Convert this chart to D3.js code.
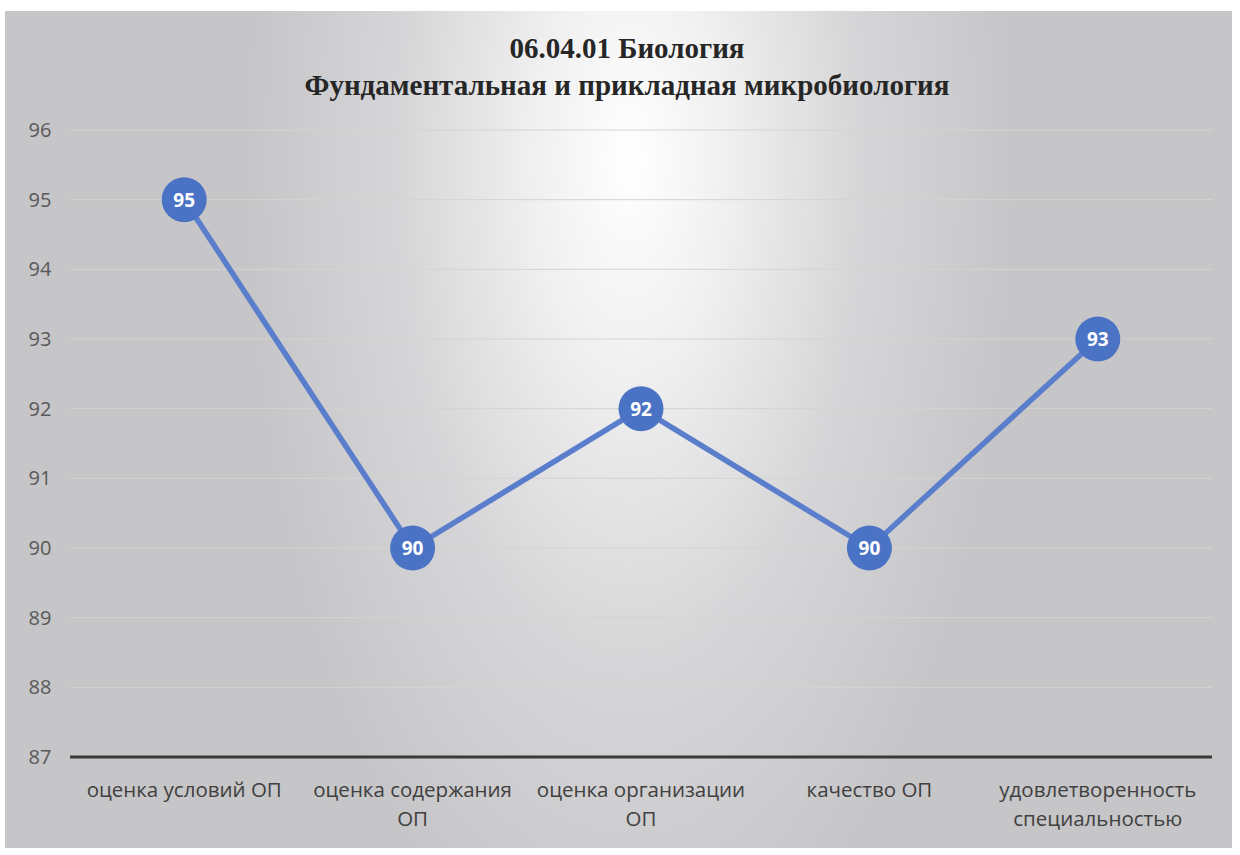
<!doctype html>
<html lang="ru">
<head>
	<meta charset="UTF-8">
	<title>06.04.01 Биология</title>
	<style>
		body { margin: 0; background: #fff; }
		.tick-label { fill: #595959; font-family: "Open Sans", "Noto Sans", sans-serif; font-size: 20px; }
		.cat-label { fill: #404040; font-family: "Open Sans", "Noto Sans", sans-serif; font-size: 20.5px; }
		.title { fill: #262626; font-family: "Liberation Serif", "DejaVu Serif", serif; font-weight: bold; font-size: 29px; }
		.val { fill: #fff; font-family: "Open Sans", "Noto Sans", sans-serif; font-size: 19px; font-weight: bold; }
	</style>
</head>
<body>
	<script src="https://cdn.jsdelivr.net/npm/d3@7"></script>
	<script>
		var categories = [
				['оценка условий ОП'],
				['оценка содержания', 'ОП'],
				['оценка организации', 'ОП'],
				['качество ОП'],
				['удовлетворенность', 'специальностью']
			],
			values = [95, 90, 92, 90, 93],
			yTicks = [87, 88, 89, 90, 91, 92, 93, 94, 95, 96],
			titleLines = ['06.04.01 Биология', 'Фундаментальная и прикладная микробиология'];

		var w = 1240,
			h = 855,
			plot = { left: 70, right: 1212, top: 130, bottom: 757 };

		var svg = d3.select('body')
			.append('svg')
			.attr('width', w)
			.attr('height', h);

		// background gradient like the scanned chart area
		var defs = svg.append('defs');
		var grad = defs.append('radialGradient')
			.attr('id', 'bg')
			.attr('gradientUnits', 'userSpaceOnUse')
			.attr('cx', 630).attr('cy', 160).attr('r', 620)
			.attr('gradientTransform', 'translate(630,160) scale(0.62,1.35) translate(-630,-160)');
		grad.append('stop').attr('offset', '0%').attr('stop-color', '#ffffff');
		grad.append('stop').attr('offset', '25%').attr('stop-color', '#f0f0f1');
		grad.append('stop').attr('offset', '60%').attr('stop-color', '#d6d5d7');
		grad.append('stop').attr('offset', '100%').attr('stop-color', '#c6c5c7');

		svg.append('rect')
			.attr('x', 5).attr('y', 11)
			.attr('width', 1227).attr('height', 837)
			.attr('fill', 'url(#bg)');

		var xScale = d3.scaleBand()
			.domain(d3.range(categories.length))
			.range([plot.left, plot.right]);

		var yScale = d3.scaleLinear()
			.domain([87, 96])
			.range([plot.bottom, plot.top]);

		// gridlines
		svg.selectAll('.grid')
			.data(yTicks.slice(1))
			.enter()
			.append('line')
			.attr('x1', plot.left)
			.attr('x2', plot.right)
			.attr('y1', function(d) { return yScale(d); })
			.attr('y2', function(d) { return yScale(d); })
			.attr('stroke', '#d4d4d4')
			.attr('stroke-width', 1);

		// y tick labels
		svg.selectAll('.tick-label')
			.data(yTicks)
			.enter()
			.append('text')
			.attr('class', 'tick-label')
			.attr('x', 40)
			.attr('y', function(d) { return yScale(d); })
			.attr('dy', '0.35em')
			.attr('text-anchor', 'middle')
			.text(function(d) { return d; });

		// x axis line
		svg.append('line')
			.attr('x1', plot.left)
			.attr('x2', plot.right)
			.attr('y1', yScale(87))
			.attr('y2', yScale(87))
			.attr('stroke', '#3a3a3a')
			.attr('stroke-width', 3);

		// category labels
		var cat = svg.selectAll('.cat-label')
			.data(categories)
			.enter()
			.append('text')
			.attr('class', 'cat-label')
			.attr('text-anchor', 'middle')
			.attr('x', function(d, i) { return xScale(i) + xScale.bandwidth() / 2; })
			.attr('y', 797);
		cat.selectAll('tspan')
			.data(function(d) { return d; })
			.enter()
			.append('tspan')
			.attr('x', function() { return d3.select(this.parentNode).attr('x'); })
			.attr('dy', function(d, i) { return i === 0 ? 0 : 29; })
			.text(function(d) { return d; });

		// line
		var line = d3.line()
			.x(function(d, i) { return xScale(i) + xScale.bandwidth() / 2; })
			.y(function(d) { return yScale(d); });

		svg.append('path')
			.datum(values)
			.attr('d', line)
			.attr('fill', 'none')
			.attr('stroke', '#5a7ecb')
			.attr('stroke-width', 5.5)
			.attr('stroke-linejoin', 'round');

		var pts = svg.selectAll('.pt')
			.data(values)
			.enter()
			.append('g')
			.attr('transform', function(d, i) {
				return 'translate(' + (xScale(i) + xScale.bandwidth() / 2) + ',' + yScale(d) + ')';
			});
		pts.append('circle')
			.attr('r', 22.5)
			.attr('fill', '#4b73c5');
		pts.append('text')
			.attr('class', 'val')
			.attr('text-anchor', 'middle')
			.attr('dy', '0.36em')
			.text(function(d) { return d; });

		// title
		svg.selectAll('.title')
			.data(titleLines)
			.enter()
			.append('text')
			.attr('class', 'title')
			.attr('text-anchor', 'middle')
			.attr('x', 627)
			.attr('y', function(d, i) { return 58 + i * 37; })
			.text(function(d) { return d; });
	</script>
</body>
</html>
